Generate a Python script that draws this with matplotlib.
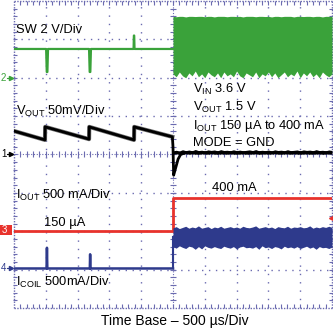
import matplotlib
matplotlib.use("Agg")
import matplotlib.pyplot as plt
from matplotlib.patches import Rectangle

plt.rcParams['font.family'] = ['Liberation Sans', 'DejaVu Sans']
plt.rcParams['mathtext.fontset'] = 'custom'
plt.rcParams['mathtext.rm'] = 'Liberation Sans'
plt.rcParams['mathtext.it'] = 'Liberation Sans'

# ---------------- data (time in microseconds) ----------------
# SW node (V), 2 V/div, ground at +2 div
sw_pre_t = [0, 505, 515, 525, 535, 1180, 1190, 1200, 1210, 1880, 1885, 1890, 1895, 2500]
sw_pre_v = [1.5, 1.5, 0.3, 0.3, 1.5, 1.5, 0.3, 0.3, 1.5, 1.5, 2.2, 2.2, 1.5, 1.5]
band_t = [2500, 2550, 2600, 2650, 2700, 2750, 2800, 2850, 2900, 2950,
          3000, 3050, 3100, 3150, 3200, 3250, 3300, 3350, 3400, 3450,
          3500, 3550, 3600, 3650, 3700, 3750, 3800, 3850, 3900, 3950,
          4000, 4050, 4100, 4150, 4200, 4250, 4300, 4350, 4400, 4450,
          4500, 4550, 4600, 4650, 4700, 4750, 4800, 4850, 4900, 4950, 5000]
sw_band_low = [0.2, 0.05, 0.3, 0.1, 0.0, 0.25, 0.1, 0.35, 0.05, 0.2,
               0.0, 0.3, 0.15, 0.05, 0.25, 0.0, 0.3, 0.1, 0.2, 0.05,
               0.35, 0.1, 0.0, 0.25, 0.15, 0.05, 0.3, 0.0, 0.2, 0.1,
               0.3, 0.05, 0.25, 0.0, 0.15, 0.3, 0.05, 0.2, 0.1, 0.35,
               0.0, 0.25, 0.1, 0.3, 0.05, 0.2, 0.0, 0.3, 0.15, 0.05, 0.2]
sw_band_high = [3.2, 3.18, 3.2, 3.2, 3.17, 3.2, 3.2, 3.19, 3.2, 3.2,
                3.18, 3.2, 3.2, 3.17, 3.2, 3.2, 3.2, 3.18, 3.2, 3.2,
                3.19, 3.2, 3.17, 3.2, 3.2, 3.2, 3.18, 3.2, 3.2, 3.19,
                3.2, 3.17, 3.2, 3.2, 3.18, 3.2, 3.2, 3.2, 3.17, 3.2,
                3.2, 3.19, 3.2, 3.2, 3.18, 3.2, 3.2, 3.17, 3.2, 3.2, 3.2]

# VOUT AC ripple (mV), 50 mV/div, ground at 0 div
vout_t = [0, 487, 490, 1180, 1183, 1887, 1890, 2490, 2500, 2510, 2540, 2580, 2620, 2700, 5000]
vout_mv = [30.6, 19, 36, 20, 36, 19, 36, 23, 10, -27, -18, -6, 0, 2.5, 2.5]
vout_band_low = [0.5, 0.8, 0.3, 0.6, 0.9, 0.4, 0.7, 0.5, 0.2, 0.8,
                 0.6, 0.4, 0.9, 0.5, 0.3, 0.7, 0.6, 0.4, 0.8, 0.5,
                 0.3, 0.6, 0.7, 0.4, 0.5, 0.6, 0.8, 0.3, 0.5, 0.7,
                 0.4, 0.6, 0.9, 0.5, 0.3, 0.7, 0.6, 0.4, 0.8, 0.5,
                 0.3, 0.6, 0.7, 0.4, 0.5, 0.6, 0.8, 0.3, 0.5, 0.7, 0.5]
vout_band_high = [4.8, 5.5, 4.6, 6.2, 5.0, 5.8, 4.9, 6.5, 5.1, 5.6,
                  4.7, 6.0, 5.3, 5.9, 4.8, 6.3, 5.2, 5.5, 4.9, 6.1,
                  5.0, 5.7, 4.8, 5.4, 6.0, 5.1, 6.4, 4.9, 5.5, 5.0,
                  5.8, 4.7, 6.1, 5.2, 5.6, 4.9, 6.2, 5.0, 5.4, 5.9,
                  4.8, 6.0, 5.3, 5.7, 4.9, 6.3, 5.1, 5.5, 4.8, 5.9, 5.2]

# IOUT (mA), 500 mA/div, ground at -2 div
iout_t = [0, 2500, 2500, 5000]
iout_ma = [0.15, 0.15, 430, 430]

# ICOIL (mA), 500 mA/div, ground at -3 div
icoil_t = [0, 512, 518, 524, 1192, 1197, 1202, 2500]
icoil_ma = [15, 15, 285, 15, 15, 200, 15, 15]
icoil_band_low = [300, 280, 310, 290, 275, 305, 295, 265, 300, 270,
                  310, 290, 280, 300, 285, 275, 305, 290, 280, 300,
                  270, 295, 305, 285, 290, 280, 300, 265, 310, 285,
                  295, 275, 300, 290, 270, 305, 285, 295, 280, 300,
                  275, 290, 305, 280, 295, 265, 300, 285, 290, 275, 295]
icoil_band_high = [545, 560, 535, 550, 565, 540, 555, 545, 570, 540,
                   550, 560, 535, 555, 545, 565, 540, 550, 560, 545,
                   555, 540, 565, 550, 545, 555, 570, 540, 550, 560,
                   545, 555, 535, 560, 550, 545, 565, 540, 555, 550,
                   560, 545, 550, 570, 540, 555, 545, 560, 550, 565, 550]

# channel settings: (ground offset in div, units per div)
SW_OFF, SW_SCALE = 2.0, 2.0
VO_OFF, VO_SCALE = 0.0, 50.0
IO_OFF, IO_SCALE = -2.0, 500.0
IC_OFF, IC_SCALE = -3.0, 500.0

def to_div(vals, off, scale):
    return [off + v / scale for v in vals]

GREEN = '#3aa23a'
BLACK = '#000000'
RED = '#e8322c'
BLUE = '#2e3a8c'
GRID = '#6b6bb0'

W, H = 333, 328
fig = plt.figure(figsize=(W / 100, H / 100), dpi=100)
ax = fig.add_axes([14 / W, 1 - 308 / H, 318 / W, 307 / H])
ax.set_xlim(0, 5000)
ax.set_ylim(-4, 4)
ax.set_axis_off()

# ---------------- graticule ----------------
for i in range(1, 10):
    if i == 5:
        continue
    ax.plot([i * 500, i * 500], [-4, 4], color=GRID, lw=1.0, ls=(0, (1, 5)), zorder=1)
for j in range(-3, 4):
    if j == 0:
        continue
    ax.plot([0, 5000], [j, j], color=GRID, lw=1.0, ls=(0, (1, 4)), zorder=1)
# centre lines
ax.plot([2500, 2500], [-4, 4], color=GRID, lw=0.8, ls=(0, (1, 1.5)), zorder=1)
ax.plot([0, 5000], [0, 0], color=GRID, lw=0.8, ls=(0, (1, 1.5)), zorder=1)
minor_x = [k * 100 for k in range(1, 50)]
minor_y = [k * 0.2 - 4 for k in range(1, 40)]
ax.plot(minor_x, [0] * len(minor_x), ls='none', marker='|', ms=4, mew=0.8, color=GRID, zorder=1)
ax.plot([2500] * len(minor_y), minor_y, ls='none', marker='_', ms=4, mew=0.8, color=GRID, zorder=1)
# frame
for xs, ys in [([0, 5000], [-4, -4]), ([0, 5000], [4, 4]), ([0, 0], [-4, 4]), ([5000, 5000], [-4, 4])]:
    ax.plot(xs, ys, color=GRID, lw=1.0, ls=(0, (1, 1)), zorder=1, clip_on=False)
ax.plot(minor_x, [-4 + 0.04] * len(minor_x), ls='none', marker='|', ms=3, mew=0.8, color=GRID, zorder=1, clip_on=False)
ax.plot(minor_x, [4 - 0.04] * len(minor_x), ls='none', marker='|', ms=3, mew=0.8, color=GRID, zorder=1, clip_on=False)
ax.plot([20] * len(minor_y), minor_y, ls='none', marker='_', ms=3, mew=0.8, color=GRID, zorder=1, clip_on=False)
ax.plot([4980] * len(minor_y), minor_y, ls='none', marker='_', ms=3, mew=0.8, color=GRID, zorder=1, clip_on=False)

# ---------------- traces ----------------
ax.plot(sw_pre_t, to_div(sw_pre_v, SW_OFF, SW_SCALE), color=GREEN, lw=1.6, zorder=3)
ax.fill_between(band_t, to_div(sw_band_low, SW_OFF, SW_SCALE), to_div(sw_band_high, SW_OFF, SW_SCALE),
                color=GREEN, lw=0, zorder=3)

ax.plot(vout_t[:8], to_div(vout_mv[:8], VO_OFF, VO_SCALE), color='#707070', lw=3.0, zorder=3)
ax.plot(vout_t, to_div(vout_mv, VO_OFF, VO_SCALE), color=BLACK, lw=2.0, zorder=4)
ax.fill_between(band_t, to_div(vout_band_low, VO_OFF, VO_SCALE), to_div(vout_band_high, VO_OFF, VO_SCALE),
                color=BLACK, lw=0, zorder=4)

ax.plot(iout_t, to_div(iout_ma, IO_OFF, IO_SCALE), color=RED, lw=2.0, zorder=3)

ax.plot(icoil_t, to_div(icoil_ma, IC_OFF, IC_SCALE), color=BLUE, lw=1.8, zorder=3)
ax.plot([2500, 2500], to_div([15, 420], IC_OFF, IC_SCALE), color=BLUE, lw=1.5, zorder=3)
ax.fill_between(band_t, to_div(icoil_band_low, IC_OFF, IC_SCALE), to_div(icoil_band_high, IC_OFF, IC_SCALE),
                color=BLUE, lw=0, zorder=3)

# ---------------- labels ----------------
FS = 9.3
labels = [
    (31, 3.16, 'SW 2 V/Div'),
    (31, 1.03, r'$\mathrm{V_{OUT}}$ 50mV/Div'),
    (2819, 1.61, r'$\mathrm{V_{IN}}$ 3.6 V'),
    (2819, 1.13, r'$\mathrm{V_{OUT}}$ 1.5 V'),
    (2819, 0.66, r'$\mathrm{I_{OUT}}$ 150 µA to 400 mA'),
    (2819, 0.23, 'MODE = GND'),
    (31, -1.17, r'$\mathrm{I_{OUT}}$ 500 mA/Div'),
    (472, -1.86, '150 µA'),
    (3108, -0.94, '400 mA'),
    (31, -3.42, r'$\mathrm{I_{COIL}}$ 500mA/Div'),
]
for x, y, s in labels:
    ax.text(x, y, s, fontsize=FS, va='baseline', ha='left', zorder=5)
fig.text(175 / W, 1 - 325 / H, 'Time Base – 500 µs/Div', fontsize=10, ha='center', va='baseline')

# channel markers on the left edge
def yfig(py):
    return 1 - py / H

fig.text(1 / W, yfig(78), '2', color=GREEN, fontsize=7, va='center', ha='left')
fig.text(1 / W, yfig(154), '1', color=BLACK, fontsize=7, va='center', ha='left')
fig.add_artist(Rectangle((0, yfig(235)), 12 / W, 10 / H, transform=fig.transFigure, color=RED, lw=0))
fig.text(2 / W, yfig(230), '3', color='white', fontsize=7, va='center', ha='left')
fig.text(1 / W, yfig(268), '4', color=BLUE, fontsize=7, va='center', ha='left')
for py, c in [(78, GREEN), (154, BLACK), (268, BLUE)]:
    fig.add_artist(plt.Line2D([7 / W, 12 / W], [yfig(py), yfig(py)], transform=fig.transFigure, color=c, lw=0.8))
    fig.add_artist(plt.Line2D([11 / W], [yfig(py)], transform=fig.transFigure, color=c, marker='>', ms=3, lw=0))
ax.plot([5000], [-1.65], marker='<', color=RED, ms=5, clip_on=False, zorder=6)

fig.savefig('out.png', dpi=100)
